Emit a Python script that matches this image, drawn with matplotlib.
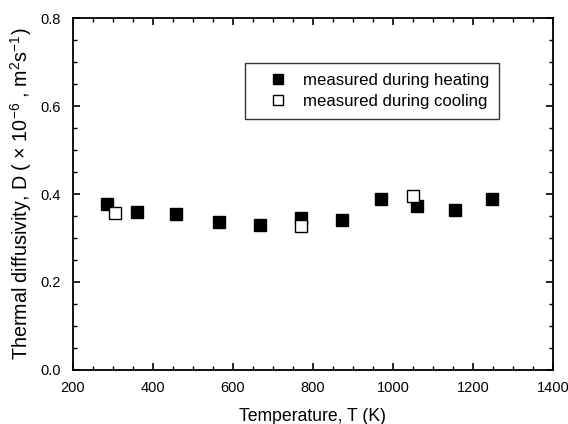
import matplotlib
matplotlib.use("Agg")
import matplotlib.pyplot as plt
from matplotlib.ticker import MultipleLocator

plt.rcParams['font.family'] = ['Liberation Sans', 'DejaVu Sans']
plt.rcParams['mathtext.default'] = 'regular'

# data
heat_T = [285, 361, 457, 564, 668, 770, 872, 969, 1061, 1154, 1247]
heat_D = [0.377, 0.360, 0.354, 0.337, 0.330, 0.346, 0.342, 0.389, 0.373, 0.363, 0.388]
cool_T = [305, 769, 1049]
cool_D = [0.357, 0.328, 0.395]

fig = plt.figure(figsize=(5.68, 4.24), dpi=100)
ax = fig.add_axes([0.1285, 0.1274, 0.845, 0.8301])

ax.plot(heat_T, heat_D, 's', color='black', markersize=8, label='measured during heating')
ax.plot(cool_T, cool_D, 's', markerfacecolor='white', markeredgecolor='black',
        markeredgewidth=1.0, markersize=8, label='measured during cooling')

ax.set_xlim(200, 1400)
ax.set_ylim(0.0, 0.8)
ax.xaxis.set_major_locator(MultipleLocator(200))
ax.xaxis.set_minor_locator(MultipleLocator(50))
ax.yaxis.set_major_locator(MultipleLocator(0.2))
ax.yaxis.set_minor_locator(MultipleLocator(0.05))
ax.yaxis.set_major_formatter(plt.FuncFormatter(lambda v, p: f"{v:.1f}"))
ax.tick_params(which='both', direction='in', top=True, right=True, labelsize=10.5, pad=8)
ax.tick_params(axis='y', which='both', pad=9)
ax.tick_params(which='major', length=5, width=1.2)
ax.tick_params(which='minor', length=3, width=1.0)
for s in ax.spines.values():
    s.set_linewidth(1.3)

ax.set_xlabel("Temperature, T (K)", fontsize=12.7, labelpad=9)
ax.set_ylabel("Thermal diffusivity, D ( $\\times$ 10$^{-6}$ , m$^{2}$s$^{-1}$)",
              fontsize=14.2, labelpad=4)

leg = ax.legend(loc='upper left', bbox_to_anchor=(0.358, 0.872), borderaxespad=0,
                fontsize=12.1, frameon=True, fancybox=False, edgecolor='black',
                markerscale=0.85, handlelength=2.7, handletextpad=0.15,
                borderpad=0.6, labelspacing=0.35)
leg.get_frame().set_linewidth(1.0)

plt.savefig("out.png", dpi=100)
